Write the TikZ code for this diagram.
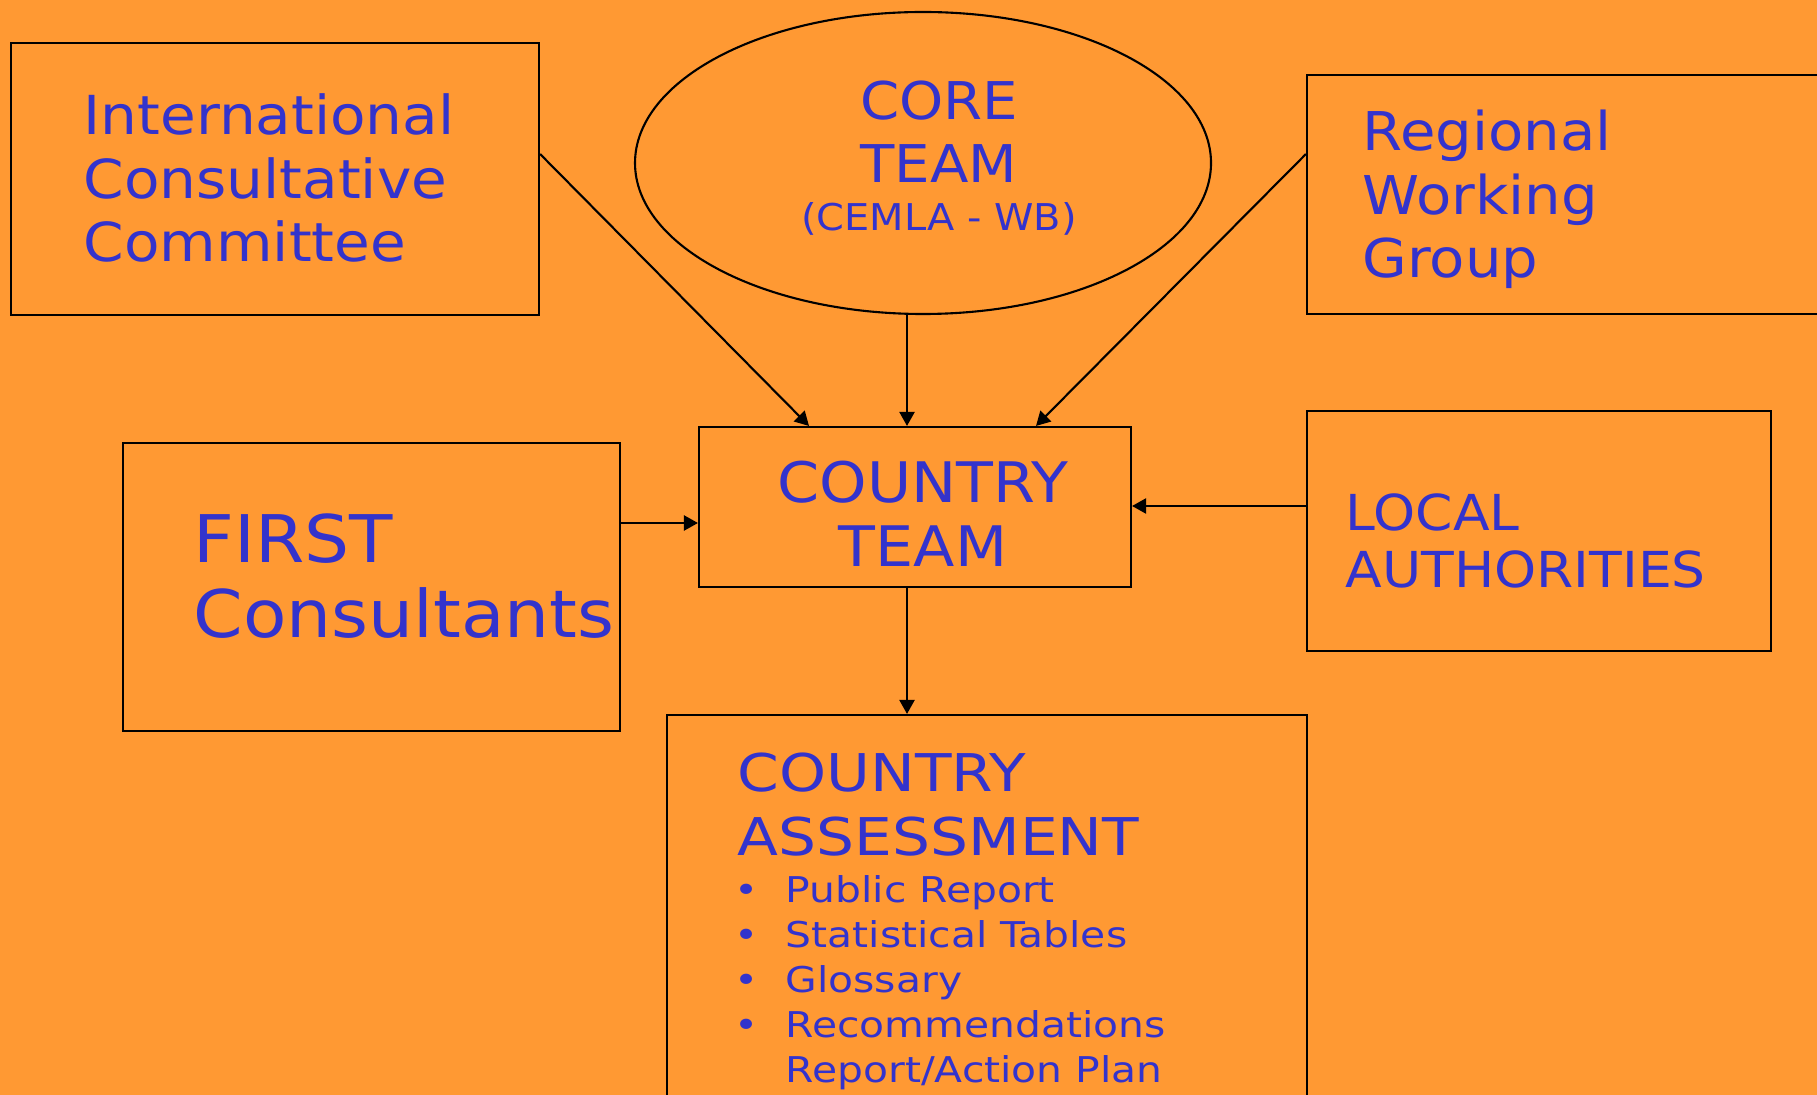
\documentclass[tikz,border=0pt]{standalone}
\usepackage{fontspec}
\setmainfont[FakeStretch=1.08]{DejaVu Sans}
\newfontfamily\listfont[FakeStretch=1.15]{DejaVu Sans}
\definecolor{slideorange}{HTML}{FF9933}
\definecolor{slideblue}{HTML}{3333CC}
\usetikzlibrary{shapes.geometric, arrows.meta, positioning}

\begin{document}
\begin{tikzpicture}[
      box/.style={draw=black, line width=0.6pt, rectangle, inner sep=0pt},
      oval/.style={draw=black, line width=0.6pt, ellipse, inner sep=0pt},
      words/.style={text=slideblue, inner sep=0pt, align=left, anchor=base west},
      middlewords/.style={text=slideblue, inner sep=0pt, align=center, anchor=base},
      link/.style={line width=0.6pt, -{Triangle[length=4pt, width=4.3pt]}}]

      % Background of the slide
      \useasboundingbox[fill=slideorange] (0,0) rectangle (18.17,-10.95);

      % Draw the boxes
      \node[box, minimum width=5.28cm, minimum height=2.72cm] (icc) at (2.75,-1.79) {};
      \node[oval, minimum width=5.76cm, minimum height=3.02cm] (core) at (9.23,-1.63) {};
      \node[box, minimum width=5.24cm, minimum height=2.39cm] (rwg) at (15.69,-1.945) {};
      \node[box, minimum width=4.32cm, minimum height=1.60cm] (ct) at (9.15,-5.07) {};
      \node[box, minimum width=4.97cm, minimum height=2.88cm] (first) at (3.715,-5.87) {};
      \node[box, minimum width=4.64cm, minimum height=2.40cm] (local) at (15.39,-5.31) {};
      \node[box, minimum width=6.40cm, minimum height=4.10cm] (ca) at (9.87,-9.20) {};

      % Texts of the boxes (base = baseline of the last line)
      \node[words, font=\fontsize{15.3}{18.07}\selectfont] (icctext) at (0.83,-2.62)
            {International\\Consultative\\Committee};
      \node[middlewords, font=\fontsize{14.8}{18.2}\selectfont] (coretext) at (9.39,-1.83)
            {CORE\\TEAM};
      \node[middlewords, font=\fontsize{10.5}{12}\selectfont] (coresub) at (9.39,-2.31)
            {(CEMLA - WB)};
      \node[words, font=\fontsize{15.2}{18.07}\selectfont] (rwgtext) at (13.62,-2.78)
            {Regional\\Working\\Group};
      \node[words, font=\fontsize{18.7}{21.3}\selectfont] (firsttext) at (1.93,-6.37)
            {FIRST\\Consultants};
      \node[middlewords, font=\fontsize{15.9}{18.2}\selectfont] (cttext) at (9.23,-5.66)
            {COUNTRY\\TEAM};
      \node[words, font=\fontsize{14.1}{16.2}\selectfont] (localtext) at (13.45,-5.87)
            {LOCAL\\AUTHORITIES};
      \node[words, font=\listfont\fontsize{14.8}{18.2}\selectfont] (catitle) at (7.37,-8.55)
            {COUNTRY\\ASSESSMENT};
      \node[words, font=\listfont\fontsize{10.1}{12.8}\selectfont] (calist) at (7.34,-10.82)
            {\makebox[0.51cm][l]{•}Public Report\\
             \makebox[0.51cm][l]{•}Statistical Tables\\
             \makebox[0.51cm][l]{•}Glossary\\
             \makebox[0.51cm][l]{•}Recommendations\\
             \makebox[0.51cm][l]{}Report/Action Plan};

      % Draw the arrows
      \draw[link] ([yshift=0.25cm]icc.east) -- ([xshift=-1.06cm]ct.north);
      \draw[link] ([xshift=-0.16cm]core.south) -- ([xshift=-0.08cm]ct.north);
      \draw[link] ([yshift=0.405cm]rwg.west) -- ([xshift=1.21cm]ct.north);
      \draw[link] ([yshift=0.64cm]first.east) -- ([yshift=0.64cm]first.east -| ct.west);
      \draw[link] ([yshift=0.25cm]local.west) -- ([yshift=0.25cm]local.west -| ct.east);
      \draw[link] ([xshift=-0.08cm]ct.south) -- ([xshift=-0.08cm]ct.south |- ca.north);
\end{tikzpicture}
\end{document}
